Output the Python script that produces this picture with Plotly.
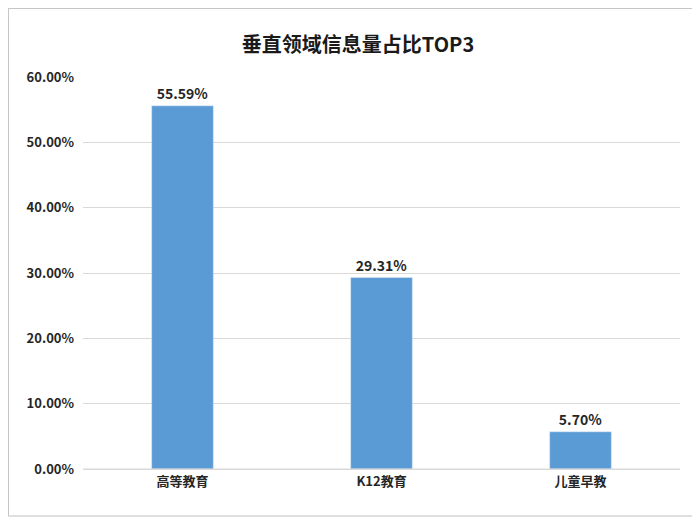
import plotly.graph_objects as go

categories = ["高等教育", "K12教育", "儿童早教"]
values = [55.59, 29.31, 5.70]
labels = ["55.59%", "29.31%", "5.70%"]
tick_vals = [0, 10, 20, 30, 40, 50, 60]
tick_text = ["0.00%", "10.00%", "20.00%", "30.00%", "40.00%", "50.00%", "60.00%"]

font = "Noto Sans CJK SC"
fig = go.Figure(go.Bar(
    x=categories, y=values, text=["<b>%s</b>" % t for t in labels], textposition="outside",
    textfont=dict(size=14, color="#262626", family=font),
    marker=dict(color="#5B9BD5"), width=0.31, cliponaxis=False))
fig.update_layout(
    width=700, height=521, plot_bgcolor="white", paper_bgcolor="white",
    margin=dict(l=75, r=28, t=69, b=60),
    title=dict(text="<b>垂直领域信息量占比TOP3</b>", x=0.5, xanchor="center", y=0.942,
               font=dict(size=20, color="#1a1a1a", family=font)),
    font=dict(family=font, color="#262626"),
    showlegend=False,
    shapes=[dict(type="rect", xref="paper", yref="paper", x0=-0.125, x1=1.03, y0=-0.12, y1=1.175,
                 line=dict(color="#bfbfbf", width=1))])
fig.update_yaxes(range=[0, 60], tickvals=tick_vals, ticktext=["<b>%s</b>" % t for t in tick_text],
                 showgrid=True, gridcolor="#d9d9d9", zeroline=False,
                 tickfont=dict(size=13, family=font), ticks="", ticklabelstandoff=8)
fig.update_xaxes(showline=True, linecolor="#d9d9d9", tickfont=dict(size=13, family=font),
                 tickvals=categories, ticktext=["<b>%s</b>" % c for c in categories])
fig.add_shape(type="line", xref="paper", yref="y", x0=0, x1=1, y0=0, y1=0, line=dict(color="#d9d9d9", width=1))
fig.write_html("out.html")
